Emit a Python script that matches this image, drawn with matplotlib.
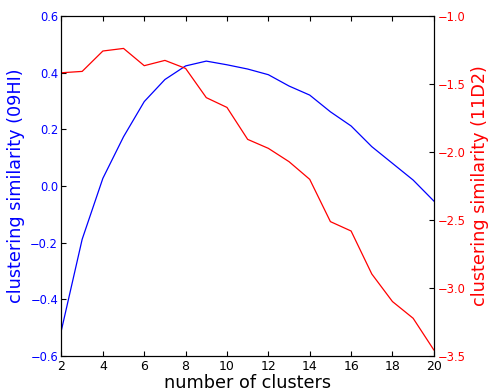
import matplotlib
matplotlib.use("Agg")
import matplotlib.pyplot as plt

clusters = list(range(2, 21))
sim_09hi = [-0.508, -0.188, 0.027, 0.174, 0.298, 0.376, 0.424, 0.441, 0.428,
            0.413, 0.393, 0.353, 0.321, 0.262, 0.212, 0.139, 0.080, 0.021, -0.053]
sim_11d2 = [-1.417, -1.407, -1.257, -1.238, -1.365, -1.326, -1.385, -1.600, -1.672,
            -1.907, -1.973, -2.071, -2.201, -2.512, -2.581, -2.897, -3.100, -3.223, -3.456]

fig = plt.figure(figsize=(4.88, 3.92), dpi=100)
ax = fig.add_axes([0.126, 0.092, 0.763, 0.867])
ax2 = ax.twinx()

ax.plot(clusters, sim_09hi, color="blue", lw=0.9)
ax2.plot(clusters, sim_11d2, color="red", lw=0.9)

ax.set_xlim(2, 20)
ax.set_xticks(range(2, 21, 2))
ax.set_ylim(-0.6, 0.6)
ax.set_yticks([-0.6, -0.4, -0.2, 0.0, 0.2, 0.4, 0.6])
ax2.set_ylim(-3.5, -1.0)
ax2.set_yticks([-3.5, -3.0, -2.5, -2.0, -1.5, -1.0])

ax.tick_params(axis="x", direction="in", top=True, labelsize=9, pad=3)
ax.tick_params(axis="y", direction="in", labelsize=8.3, pad=2.5,
               colors="black", labelcolor="blue")
ax2.tick_params(axis="y", direction="in", labelsize=8.3, pad=2.5,
                colors="black", labelcolor="red")

ax.set_xlabel("number of clusters", fontsize=12.7, labelpad=1)
ax.set_ylabel("clustering similarity (09HI)", fontsize=12.7, color="blue")
ax2.set_ylabel("clustering similarity (11D2)", fontsize=12.7, color="red")

fig.savefig("out.png", dpi=100)
